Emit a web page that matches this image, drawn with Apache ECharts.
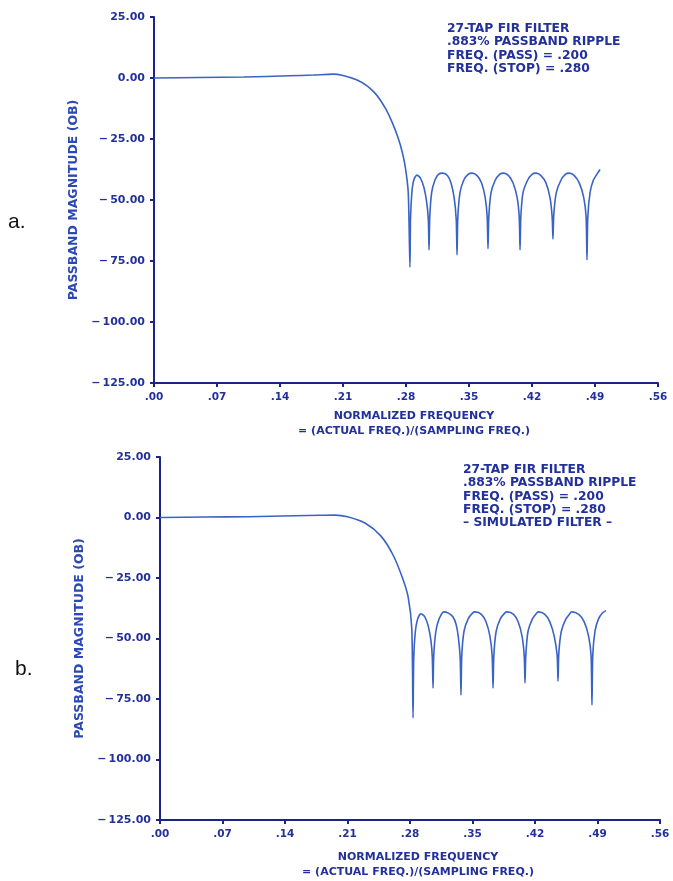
<!DOCTYPE html>
<html>
<head>
<meta charset="utf-8">
<script src="https://cdn.jsdelivr.net/npm/echarts@6/dist/echarts.min.js"></script>
<style>
html,body{margin:0;padding:0;background:#fff;}
#chart{width:673px;height:881px;}
</style>
</head>
<body>
<div id="chart"></div>
<script>
// ---- Data (normalized frequency, magnitude in dB) ----
const freqA = [0.000,0.050,0.100,0.150,0.177,0.199,0.210,0.2256,0.2367,0.245,0.251,0.258,0.265,0.2712,0.2752,0.279,0.2825,
  0.2844,0.2850,0.2865,0.2885,0.2920,0.2960,0.3000,0.3030,0.3048,
  0.3056,0.3064,0.3085,0.3120,0.3160,0.3210,0.3260,0.3300,0.3335,0.3358,
  0.3367,0.3376,0.3400,0.3440,0.3490,0.3535,0.3590,0.3640,0.3680,0.3702,
  0.3711,0.3720,0.3745,0.3790,0.3840,0.3885,0.3940,0.3990,0.4035,0.4058,
  0.4067,0.4076,0.4100,0.4150,0.4200,0.4245,0.4300,0.4355,0.4400,0.4424,
  0.4433,0.4442,0.4470,0.4520,0.4570,0.4615,0.4670,0.4725,0.4775,0.4801,
  0.4811,0.4820,0.4845,0.4880,0.4920,0.4956];
const dbA = [0.0,0.2,0.4,0.9,1.2,1.6,1.0,-0.8,-3.2,-6.0,-8.8,-13.0,-18.5,-24.5,-29.5,-36.0,-47.0,
  -77.5,-58,-47,-42,-39.8,-41,-45,-51,-58,
  -70.5,-57,-47,-42,-39.5,-39,-40,-43,-49,-58,
  -72.5,-57,-47,-42,-39.5,-39,-40,-43,-49,-57,
  -70.0,-57,-47,-42,-39.5,-39,-40,-43,-49,-57,
  -70.5,-57,-47,-42,-39.5,-39,-40,-43,-49,-57,
  -66.0,-56,-47,-42,-39.5,-39,-40,-43,-49,-57,
  -74.6,-57,-47,-42,-39.5,-37.5];

const freqB = [0.000,0.050,0.0986,0.150,0.180,0.196,0.210,0.2296,0.2475,0.261,0.272,0.278,0.282,
  0.2834,0.2842,0.2860,0.2885,0.2923,0.2965,0.3005,0.3035,0.3050,
  0.3058,0.3066,0.3090,0.3125,0.3180,0.3230,0.3280,0.3315,0.3340,0.3362,
  0.3371,0.3380,0.3405,0.3450,0.3500,0.3530,0.3600,0.3650,0.3695,0.3720,
  0.3730,0.3739,0.3765,0.3810,0.3860,0.3890,0.3960,0.4010,0.4055,0.4079,
  0.4088,0.4097,0.4122,0.4170,0.4220,0.4240,0.4310,0.4365,0.4415,0.4448,
  0.4458,0.4467,0.4495,0.4545,0.4595,0.4610,0.4690,0.4750,0.4800,0.4828,
  0.4838,0.4847,0.4872,0.4910,0.4955,0.4995];
const dbB = [0.0,0.2,0.3,0.7,0.9,1.0,0.3,-2.3,-7.7,-15.5,-25.4,-33.0,-46.0,
  -82.8,-58,-47,-42,-39.8,-41,-45,-51,-58,
  -70.5,-57,-47,-42,-39,-39.5,-41,-44,-49,-58,
  -73.4,-57,-47,-42,-39.5,-39,-40,-43,-49,-57,
  -70.5,-57,-47,-42,-39.5,-39,-40,-43,-49,-57,
  -68.4,-57,-47,-42,-39.5,-39,-40,-43,-49,-57,
  -67.6,-56,-47,-42,-39.5,-39,-40,-43,-49,-57,
  -77.5,-57,-47,-42,-39.5,-38.5];

const notesA = ['27-TAP FIR FILTER', '.883% PASSBAND RIPPLE', 'FREQ. (PASS) = .200', 'FREQ. (STOP) = .280'];
const notesB = ['27-TAP FIR FILTER', '.883% PASSBAND RIPPLE', 'FREQ. (PASS) = .200', 'FREQ. (STOP) = .280', '\u2013 SIMULATED FILTER \u2013'];
const panelLabels = ['a.', 'b.'];
const yAxisTitle = 'PASSBAND MAGNITUDE (OB)';
const xAxisTitle = 'NORMALIZED FREQUENCY\n= (ACTUAL FREQ.)/(SAMPLING FREQ.)';

// ---- Styling ----
const FONT = '"DejaVu Sans", "Liberation Sans", Arial, sans-serif';
const AXIS_COLOR = '#1c2488';
const TEXT_COLOR = '#22309a';
const CURVE_COLOR = '#3a63c6';

function pairs(f, d) { return f.map((x, i) => [x, d[i]]); }

function xAxisCfg(gi, gap) {
  return {
    type: 'value', gridIndex: gi, min: 0, max: 0.56, interval: 0.07,
    axisLine: { onZero: false, lineStyle: { color: AXIS_COLOR, width: 2 } },
    axisTick: { show: true, length: 4, lineStyle: { color: AXIS_COLOR, width: 2 } },
    splitLine: { show: false },
    axisLabel: {
      margin: 9, color: TEXT_COLOR, fontFamily: FONT, fontWeight: 'bold', fontSize: 10.5,
      formatter: v => v.toFixed(2).replace(/^0\./, '.')
    },
    name: xAxisTitle, nameLocation: 'middle', nameGap: gap,
    nameTextStyle: { color: TEXT_COLOR, fontFamily: FONT, fontWeight: 'bold', fontSize: 11, lineHeight: 15, padding: [0, 0, 0, 16] }
  };
}
function yAxisCfg(gi) {
  return {
    type: 'value', gridIndex: gi, min: -125, max: 25, interval: 25,
    axisLine: { show: true, onZero: false, lineStyle: { color: AXIS_COLOR, width: 2 } },
    axisTick: { show: true, length: 4, lineStyle: { color: AXIS_COLOR, width: 2 } },
    splitLine: { show: false },
    axisLabel: {
      margin: 9, color: TEXT_COLOR, fontFamily: FONT, fontWeight: 'bold', fontSize: 11,
      formatter: v => (v < 0 ? '\u2212\u2009' + Math.abs(v).toFixed(2) : v.toFixed(2))
    },
    name: yAxisTitle, nameLocation: 'middle', nameGap: 72, nameRotate: 90,
    nameTextStyle: { color: '#2c48b4', fontFamily: FONT, fontWeight: 'bold', fontSize: 12.5 }
  };
}
function noteText(lines, left, top) {
  return {
    type: 'text', left: left, top: top,
    style: { text: lines.join('\n'), fill: TEXT_COLOR, font: 'bold 12.3px ' + FONT, lineHeight: 13.4 }
  };
}

const chart = echarts.init(document.getElementById('chart'), null, { renderer: 'canvas' });
chart.setOption({
  backgroundColor: '#ffffff',
  animation: false,
  grid: [
    { left: 154, top: 17, width: 504, height: 366 },
    { left: 160, top: 457, width: 500, height: 364 }
  ],
  xAxis: [xAxisCfg(0, 26), xAxisCfg(1, 30)],
  yAxis: [yAxisCfg(0), yAxisCfg(1)],
  series: [
    { type: 'line', xAxisIndex: 0, yAxisIndex: 0, data: pairs(freqA, dbA), showSymbol: false, smooth: 0.25,
      lineStyle: { color: CURVE_COLOR, width: 1.6 } },
    { type: 'line', xAxisIndex: 1, yAxisIndex: 1, data: pairs(freqB, dbB), showSymbol: false, smooth: 0.25,
      lineStyle: { color: CURVE_COLOR, width: 1.6 } }
  ],
  graphic: [
    noteText(notesA, 447, 22),
    noteText(notesB, 463, 463),
    { type: 'text', left: 8, top: 212, style: { text: panelLabels[0], fill: '#111', font: '21px "Liberation Sans", Arial, sans-serif' } },
    { type: 'text', left: 15, top: 659, style: { text: panelLabels[1], fill: '#111', font: '21px "Liberation Sans", Arial, sans-serif' } }
  ]
});
</script>
</body>
</html>
